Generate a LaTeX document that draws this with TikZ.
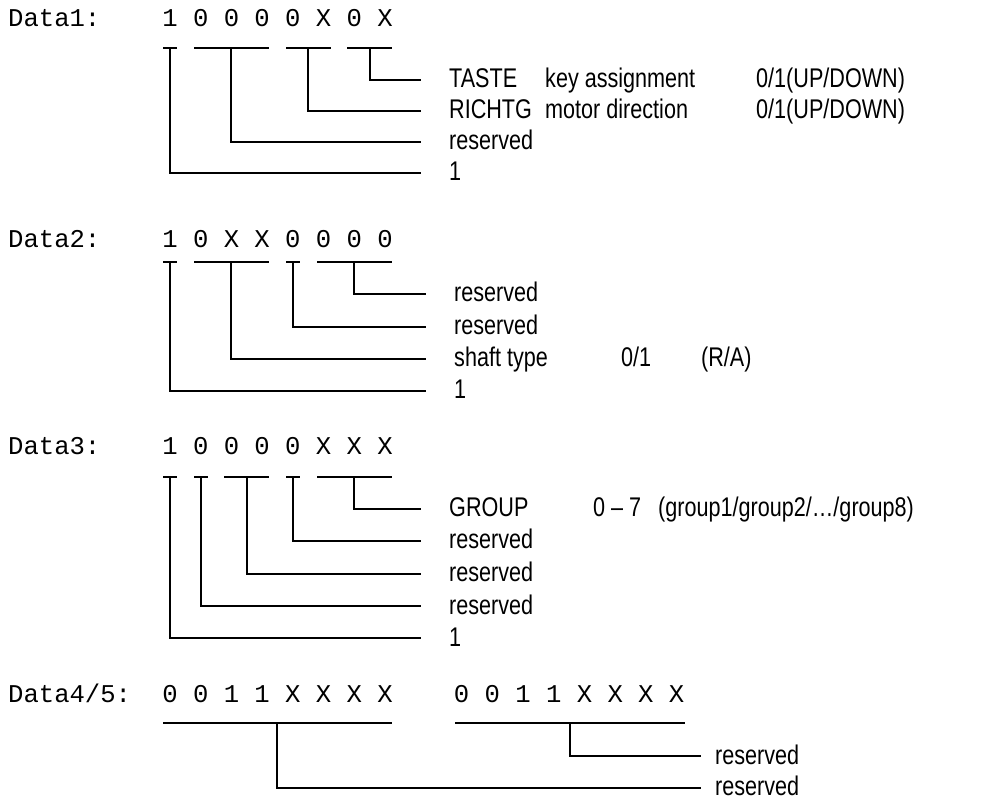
\documentclass[tikz,border=0pt]{standalone}
\usepackage{fontspec}
\usepackage{graphicx}
\setmainfont{Liberation Sans}
\newfontfamily\monofont{Liberation Mono}
\newcommand{\lbltxt}[1]{\scalebox{0.8}[1]{#1}}
\tikzset{
  mono/.style={font=\monofont\fontsize{25.6}{30}\selectfont, inner sep=0pt, anchor=base},
  hdr/.style={font=\monofont\fontsize{25.6}{30}\selectfont, inner sep=0pt, anchor=base west},
  lbl/.style={font=\fontsize{27}{32}\selectfont, inner sep=0pt, anchor=west, text height=19.5pt, text depth=3.5pt},
  barline/.style={line width=2pt},
  conn/.style={line width=2pt, shorten >=28pt},
  connb/.style={line width=2pt, shorten >=14pt}
}
\begin{document}
\begin{tikzpicture}[x=1pt,y=-1pt]
\useasboundingbox (0,0) rectangle (1005,799);

% ---------------- Data1 ----------------
\node[hdr] (h1) at (8,27) {Data1:};
\foreach \d [count=\k] in {1,0,0,0,0,X,0,X}
  \node[mono] (a\k) at ({170+30.72*(\k-1)},27) {\d};
\draw[barline] (163,48) -- (177,48);
\draw[barline] (194,48) -- (269,48);
\draw[barline] (286,48) -- (331,48);
\draw[barline] (347,48) -- (392,48);
\coordinate (a1m) at (170,48);
\coordinate (a2m) at (231,48);
\coordinate (a3m) at (308,48);
\coordinate (a4m) at (370,48);
\node[lbl] (la1) at (449,80) {\lbltxt{TASTE}};
\node[lbl] (la1b) at (545,80) {\lbltxt{key assignment}};
\node[lbl] (la1c) at (756,80) {\lbltxt{0/1(UP/DOWN)}};
\node[lbl] (la2) at (449,111) {\lbltxt{RICHTG}};
\node[lbl] (la2b) at (545,111) {\lbltxt{motor direction}};
\node[lbl] (la2c) at (756,111) {\lbltxt{0/1(UP/DOWN)}};
\node[lbl] (la3) at (449,142) {\lbltxt{reserved}};
\node[lbl] (la4) at (449,173) {\lbltxt{1}};
\draw[conn] (a4m) |- (la1.west);
\draw[conn] (a3m) |- (la2.west);
\draw[conn] (a2m) |- (la3.west);
\draw[conn] (a1m) |- (la4.west);

% ---------------- Data2 ----------------
\node[hdr] (h2) at (8,247.3) {Data2:};
\foreach \d [count=\k] in {1,0,X,X,0,0,0,0}
  \node[mono] (b\k) at ({170+30.72*(\k-1)},247.3) {\d};
\draw[barline] (163,262) -- (177,262);
\draw[barline] (194,262) -- (269,262);
\draw[barline] (286,262) -- (300,262);
\draw[barline] (317,262) -- (392,262);
\coordinate (b1m) at (170,262);
\coordinate (b2m) at (231,262);
\coordinate (b3m) at (293,262);
\coordinate (b4m) at (354,262);
\node[lbl] (lb1) at (454,294) {\lbltxt{reserved}};
\node[lbl] (lb2) at (454,327) {\lbltxt{reserved}};
\node[lbl] (lb3) at (454,359) {\lbltxt{shaft type}};
\node[lbl] (lb3b) at (621,359) {\lbltxt{0/1}};
\node[lbl] (lb3c) at (701,359) {\lbltxt{(R/A)}};
\node[lbl] (lb4) at (454,391) {\lbltxt{1}};
\draw[conn] (b4m) |- (lb1.west);
\draw[conn] (b3m) |- (lb2.west);
\draw[conn] (b2m) |- (lb3.west);
\draw[conn] (b1m) |- (lb4.west);

% ---------------- Data3 ----------------
\node[hdr] (h3) at (8,455) {Data3:};
\foreach \d [count=\k] in {1,0,0,0,0,X,X,X}
  \node[mono] (c\k) at ({170+30.72*(\k-1)},455) {\d};
\draw[barline] (163,477) -- (177,477);
\draw[barline] (194,477) -- (208,477);
\draw[barline] (224,477) -- (269,477);
\draw[barline] (286,477) -- (300,477);
\draw[barline] (317,477) -- (392,477);
\coordinate (c1m) at (170,477);
\coordinate (c2m) at (201,477);
\coordinate (c3m) at (247,477);
\coordinate (c4m) at (293,477);
\coordinate (c5m) at (354,477);
\node[lbl] (lc1) at (449,509) {\lbltxt{GROUP}};
\node[lbl] (lc1b) at (593,509) {\lbltxt{0 – 7}};
\node[lbl] (lc1c) at (658,509) {\lbltxt{(group1/group2/…/group8)}};
\node[lbl] (lc2) at (449,541) {\lbltxt{reserved}};
\node[lbl] (lc3) at (449,574) {\lbltxt{reserved}};
\node[lbl] (lc4) at (449,606) {\lbltxt{reserved}};
\node[lbl] (lc5) at (449,638) {\lbltxt{1}};
\draw[conn] (c5m) |- (lc1.west);
\draw[conn] (c4m) |- (lc2.west);
\draw[conn] (c3m) |- (lc3.west);
\draw[conn] (c2m) |- (lc4.west);
\draw[conn] (c1m) |- (lc5.west);

% ---------------- Data4/5 ----------------
\node[hdr] (h4) at (8,702.7) {Data4/5:};
\foreach \d [count=\k] in {0,0,1,1,X,X,X,X}
  \node[mono] (d\k) at ({170+30.72*(\k-1)},702.7) {\d};
\foreach \d [count=\k] in {0,0,1,1,X,X,X,X}
  \node[mono] (e\k) at ({461.6+30.72*(\k-1)},702.7) {\d};
\draw[barline] (163,723) -- (392,723);
\draw[barline] (455,723) -- (685,723);
\coordinate (d1m) at (277,723);
\coordinate (e1m) at (570,723);
\node[lbl] (ld1) at (715,756) {\lbltxt{reserved}};
\node[lbl] (ld2) at (715,787.5) {\lbltxt{reserved}};
\draw[connb] (e1m) |- (ld1.west);
\draw[connb] (d1m) |- (ld2.west);
\end{tikzpicture}
\end{document}
